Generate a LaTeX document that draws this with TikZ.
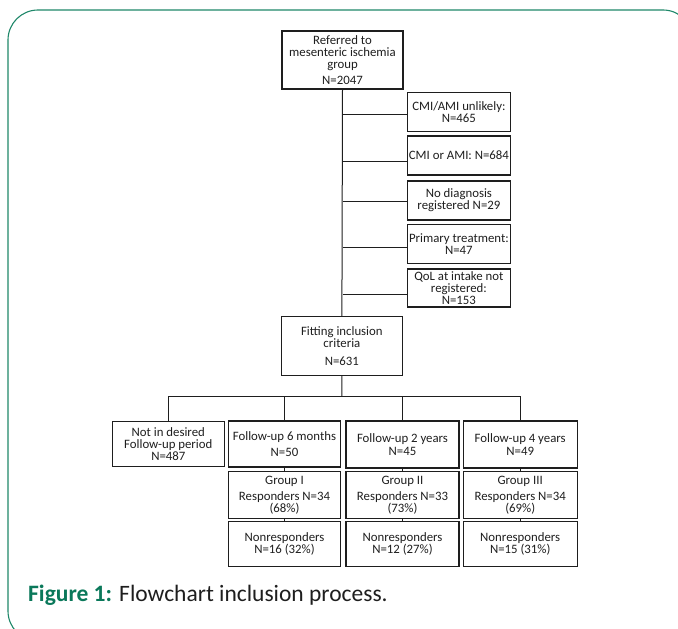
\documentclass[tikz,border=0pt]{standalone}
\usepackage{fontspec}
\setmainfont{Carlito}
\definecolor{framegreen}{RGB}{30,135,105}
\definecolor{titlegreen}{RGB}{10,120,90}
\definecolor{ink}{RGB}{30,30,30}
\begin{document}
\begin{tikzpicture}[x=1pt,y=-1pt,
  bx/.style={draw=ink,line width=1.1pt,inner sep=0pt,align=center,text=ink,
    font=\fontsize{12.8}{12.2}\selectfont},
  ln/.style={draw=ink,line width=1pt}]
\useasboundingbox (0,0) rectangle (678,629);
\draw[framegreen,line width=1.1pt,rounded corners=30pt] (8,10) rectangle (693,641);

% top box
\node[bx,minimum width=121pt,minimum height=58pt] (top) at (342.5,60)
  {Referred to\\mesenteric ischemia\\group\\[4pt]N=2047};
% exclusions
\node[bx,minimum width=102.3pt,minimum height=39.4pt] (e1) at (458.9,112) {CMI/AMI unlikely:\\N=465};
\node[bx,minimum width=102.3pt,minimum height=39pt] (e2) at (458.9,155.5) {CMI or AMI: N=684};
\node[bx,minimum width=102.3pt,minimum height=39pt] (e3) at (458.9,200.5) {No diagnosis\\registered N=29};
\node[bx,minimum width=102.3pt,minimum height=39pt] (e4) at (458.9,243.8) {Primary treatment:\\N=47};
\node[bx,minimum width=102.3pt,minimum height=38pt] (e5) at (458.9,288) {QoL at intake not\\registered:\\N=153};
% fitting
\node[bx,minimum width=121.7pt,minimum height=58.3pt] (fit) at (341.9,345.9)
  {Fitting inclusion\\criteria\\[5pt]N=631};

% trunk
\draw[ln] (top.south) -- (fit.north);
\draw[draw=ink,line width=1.8pt] (top.south) -- ([yshift=-5.5pt]e2.west -| top.south);
\draw[ln] ([yshift=-2pt]e1.west) -- ([yshift=-2pt]e1.west -| top.south);
\draw[ln] ([yshift=-5.5pt]e2.west) -- ([yshift=-5.5pt]e2.west -| top.south);
\draw[ln] ([yshift=-1pt]e3.west) -- ([yshift=-1pt]e3.west -| top.south);
\draw[ln] ([yshift=-4pt]e4.west) -- ([yshift=-4pt]e4.west -| top.south);
\draw[ln] ([yshift=-6pt]e5.west) -- ([yshift=-6pt]e5.west -| top.south);

% bottom rows
\node[bx,minimum width=112pt,minimum height=45.7pt] (na) at (168.3,443.9) {Not in desired\\Follow-up period\\N=487};
\node[bx,minimum width=112.4pt,minimum height=46pt] (f6) at (284.5,444) {Follow-up 6 months\\[4.5pt]N=50};
\node[bx,minimum width=113pt,minimum height=47pt] (f2) at (402.5,444.5) {Follow-up 2 years\\N=45};
\node[bx,minimum width=113.7pt,minimum height=47pt] (f4) at (520.2,444.5) {Follow-up 4 years\\N=49};

\node[bx,minimum width=112.4pt,minimum height=46.6pt] (g1) at (284.5,495) {Group I\\[4pt]Responders N=34\\(68\%)};
\node[bx,minimum width=113pt,minimum height=46.6pt] (g2) at (402.5,495) {Group II\\[4pt]Responders N=33\\(73\%)};
\node[bx,minimum width=113.7pt,minimum height=46.6pt] (g3) at (520.2,495) {Group III\\[4pt]Responders N=34\\(69\%)};

\node[bx,minimum width=112.4pt,minimum height=45pt] (n1) at (284.5,544.2) {Nonresponders\\N=16 (32\%)};
\node[bx,minimum width=113pt,minimum height=45pt] (n2) at (402.5,544.2) {Nonresponders\\N=12 (27\%)};
\node[bx,minimum width=113.7pt,minimum height=45pt] (n3) at (520.2,544.2) {Nonresponders\\N=15 (31\%)};

\coordinate (hb) at (342,396.7);
\draw[ln] (fit.south) -- (hb);
\draw[ln] (na.north) |- (hb) -| (f4.north);
\draw[ln] (f6.north) -- (f6.north |- hb);
\draw[ln] (f2.north) -- (f2.north |- hb);

\foreach \a/\b in {f6/g1,f2/g2,f4/g3,g1/n1,g2/n2,g3/n3}{
  \draw[ln] (\a.south) -- (\b.north);
}

% caption
\node[anchor=base west,inner sep=0pt,text=ink,font=\fontsize{23.5}{26}\selectfont] (cap) at (28,601)
  {\textcolor{titlegreen}{\textbf{Figure 1:}} Flowchart inclusion process.};
\end{tikzpicture}
\end{document}
